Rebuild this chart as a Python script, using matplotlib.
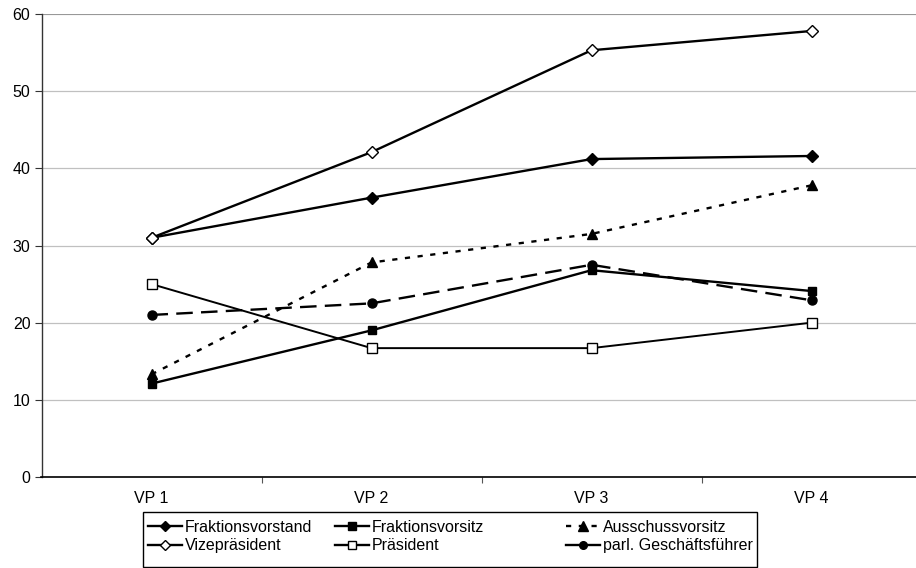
import matplotlib
matplotlib.use("Agg")
import matplotlib.pyplot as plt
from matplotlib.lines import Line2D
from matplotlib.patches import Rectangle
from matplotlib.ticker import FixedLocator, NullFormatter

plt.rcParams['font.family'] = ['Liberation Sans', 'DejaVu Sans']

categories = ["VP 1", "VP 2", "VP 3", "VP 4"]
fraktionsvorstand = [31.0, 36.2, 41.2, 41.6]
fraktionsvorsitz = [12.1, 19.0, 26.8, 24.1]
ausschussvorsitz = [13.3, 27.8, 31.5, 37.8]
vizepraesident = [31.0, 42.1, 55.3, 57.8]
praesident = [25.0, 16.7, 16.7, 20.0]
parl_gf = [21.0, 22.5, 27.5, 22.9]
y_ticks = [0, 10, 20, 30, 40, 50, 60]

W, H = 916, 568
fig = plt.figure(figsize=(W / 100, H / 100), dpi=100)
left, right, top, bottom = 41.5, 921.5, 14, 477
ax = fig.add_axes([left / W, 1 - bottom / H, (right - left) / W, (bottom - top) / H])

fs = 11.5
x = list(range(len(categories)))
lw = 1.7
ax.plot(x, fraktionsvorstand, color='black', lw=lw, marker='D', ms=6, mfc='black', mec='black', zorder=3)
ax.plot(x, fraktionsvorsitz, color='black', lw=lw, marker='s', ms=6, mfc='black', mec='black', zorder=3)
ax.plot(x, ausschussvorsitz, color='black', lw=lw, ls=(0, (2.2, 3.2)), marker='^', ms=7.5, mfc='black', mec='black', zorder=3)
ax.plot(x, vizepraesident, color='black', lw=lw, marker='D', ms=6, mfc='white', mec='black', mew=1, zorder=3)
ax.plot(x, praesident, color='black', lw=1.4, marker='s', ms=6.5, mfc='white', mec='black', mew=1, zorder=3)
ax.plot(x, parl_gf, color='black', lw=lw, ls=(0, (7, 3.5)), marker='o', ms=6.5, mfc='black', mec='black', zorder=3)

ax.set_xlim(-0.5, 3.5)
ax.set_ylim(0, 60)
ax.set_yticks(y_ticks)
ax.set_xticks(x)
ax.set_xticklabels(categories, fontsize=fs)
ax.tick_params(axis='x', which='major', length=0, pad=10)
ax.xaxis.set_minor_locator(FixedLocator([0.5, 1.5, 2.5]))
ax.xaxis.set_minor_formatter(NullFormatter())
ax.tick_params(axis='x', which='minor', length=4, direction='out', width=0.8, color='#555555')
ax.tick_params(axis='y', length=5, direction='out', width=0.8, color='#333333', labelsize=fs, pad=3)

ax.yaxis.grid(True, color='#c0c0c0', lw=0.9)
ax.set_axisbelow(True)
for s in ['top', 'right']:
    ax.spines[s].set_visible(False)
ax.spines['left'].set_color('#333333')
ax.spines['left'].set_linewidth(1.0)
ax.spines['bottom'].set_color('black')
ax.spines['bottom'].set_linewidth(1.2)
ax.axhline(60, color='#909090', lw=1.2, zorder=1)

handles = [
    Line2D([], [], color='black', lw=lw, marker='D', ms=5, mfc='black', mec='black'),
    Line2D([], [], color='black', lw=lw, marker='D', ms=5, mfc='white', mec='black', mew=1),
    Line2D([], [], color='black', lw=lw, marker='s', ms=5.5, mfc='black', mec='black'),
    Line2D([], [], color='black', lw=lw, marker='s', ms=5.5, mfc='white', mec='black', mew=1),
    Line2D([], [], color='black', lw=lw, ls=(0, (2.2, 3.2)), marker='^', ms=6.5, mfc='black', mec='black'),
    Line2D([], [], color='black', lw=lw, marker='o', ms=5.5, mfc='black', mec='black'),
]
labels = ["Fraktionsvorstand", "Vizepräsident", "Fraktionsvorsitz", "Präsident",
          "Ausschussvorsitz", "parl. Geschäftsführer"]

fig.add_artist(Rectangle((143 / W, 1 - 567 / H), 614 / W, 55 / H, transform=fig.transFigure,
                         fill=False, ec='black', lw=1.0))
col_x = [148, 335, 566]
for i, cx in enumerate(col_x):
    fig.legend(handles[2 * i:2 * i + 2], labels[2 * i:2 * i + 2], loc='upper left',
               bbox_to_anchor=(cx / W, 1 - 520 / H), frameon=False,
               fontsize=fs, handlelength=2.1, handletextpad=0.2, borderpad=0,
               labelspacing=0.2, borderaxespad=0)

fig.savefig("out.png", dpi=100)
